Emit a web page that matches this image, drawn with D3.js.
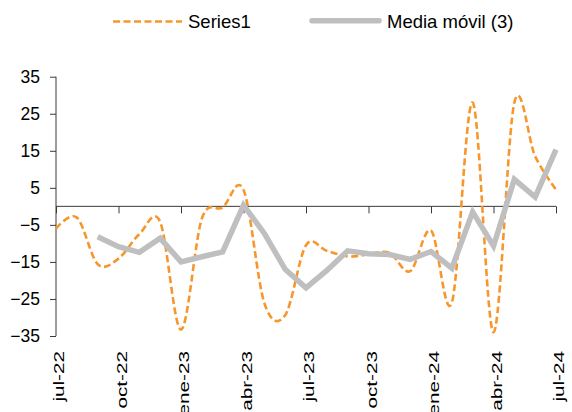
<!DOCTYPE html>
<html>
<head>
<meta charset="utf-8">
<script src="https://cdn.jsdelivr.net/npm/d3@7"></script>
<style>
  body { margin: 0; background: #fff; }
  svg { display: block; font-family: Arial, "Liberation Sans", sans-serif; }
</style>
</head>
<body>
<div class="chart"></div>
<script>
const months = [
  "jul-22", "ago-22", "sep-22", "oct-22", "nov-22", "dic-22",
  "ene-23", "feb-23", "mar-23", "abr-23", "may-23", "jun-23",
  "jul-23", "ago-23", "sep-23", "oct-23", "nov-23", "dic-23",
  "ene-24", "feb-24", "mar-24", "abr-24", "may-24", "jun-24",
  "jul-24"
];
const series1 = [
  -6, -3, -15.6, -14.1, -7.5, -4.2,
  -33.3, -3.3, -0.3, 4.5, -26.1, -29.4,
  -10.5, -12, -13.5, -13, -12.5, -17.5,
  -6.5, -26, 28, -34, 28, 13.5,
  4.5
];
const mediaMovil = [
  null, null, -8.2, -10.9, -12.4, -8.6,
  -15, -13.6, -12.3, 0.3, -7.3, -17,
  -22, -17.3, -12, -12.8, -13, -14.3,
  -12.2, -16.7, -1.5, -10.7, 7.3, 2.5,
  15.3
];
const yTicks = [35, 25, 15, 5, -5, -15, -25, -35];
const labelMonths = months.filter((d, i) => i % 3 === 0);

const width = 572;
const height = 412;
const orange = "#F7962B";
const gray = "#BFBFBF";
const axisColor = "#3a3a3a";

const svg = d3
  .select(".chart")
  .append("svg")
  .attr("width", width)
  .attr("height", height);

const x = d3.scalePoint().domain(months).range([56, 556]);
const y = d3.scaleLinear().domain([-35, 35]).range([336, 76.7]);

// y axis
const yAxis = svg
  .append("g")
  .attr("transform", "translate(56,0)")
  .call(d3.axisLeft(y).tickValues(yTicks).tickSize(6).tickPadding(10).tickFormat(d3.format("d")));
yAxis.select(".domain").attr("stroke", axisColor).attr("d", `M0,${y(35)}V${y(-35)}`);
yAxis.selectAll(".tick line").attr("stroke", axisColor);
yAxis
  .selectAll(".tick text")
  .attr("fill", "#000")
  .style("font-size", "17.5px");

// x axis line at zero
const xAxis = svg
  .append("g")
  .attr("transform", `translate(0,${y(0)})`)
  .call(d3.axisBottom(x).tickValues(labelMonths).tickSize(7).tickFormat(""));
xAxis.select(".domain").attr("stroke", axisColor).attr("d", `M56,0H556`);
xAxis.selectAll(".tick line").attr("stroke", axisColor);

// month labels at bottom
const labels = svg
  .append("g")
  .selectAll("text")
  .data(labelMonths)
  .join("text")
  .attr("transform", (d) => `translate(${x(d) + 8},351) rotate(-90) scale(1.38,1)`)
  .attr("text-anchor", "end")
  .attr("fill", "#000")
  .style("font-size", "15px")
  .text((d) => d);

// series
const line = d3
  .line()
  .defined((d) => d.v !== null)
  .x((d) => x(d.m))
  .y((d) => y(d.v));

svg
  .append("path")
  .datum(months.map((m, i) => ({ m: m, v: series1[i] })))
  .attr("fill", "none")
  .attr("stroke", orange)
  .attr("stroke-width", 2.6)
  .attr("stroke-dasharray", "7,3.5")
  .attr("d", line.curve(d3.curveCardinal.tension(0)));

svg
  .append("path")
  .datum(months.map((m, i) => ({ m: m, v: mediaMovil[i] })))
  .attr("fill", "none")
  .attr("stroke", gray)
  .attr("stroke-width", 5.5)
  .attr("stroke-linejoin", "miter")
  .attr("d", line.curve(d3.curveLinear));

// legend
const legend = svg.append("g");
legend
  .append("line")
  .attr("x1", 113)
  .attr("x2", 182)
  .attr("y1", 21.5)
  .attr("y2", 21.5)
  .attr("stroke", orange)
  .attr("stroke-width", 2.6)
  .attr("stroke-dasharray", "7,3.5");
legend
  .append("text")
  .attr("x", 188)
  .attr("y", 27.5)
  .style("font-size", "18.5px")
  .text("Series1");
legend
  .append("line")
  .attr("x1", 312)
  .attr("x2", 379)
  .attr("y1", 20.7)
  .attr("y2", 20.7)
  .attr("stroke", gray)
  .attr("stroke-width", 5.5)
  .attr("stroke-linecap", "round");
legend
  .append("text")
  .attr("x", 387)
  .attr("y", 27.5)
  .style("font-size", "18.5px")
  .text("Media móvil (3)");
</script>
</body>
</html>
